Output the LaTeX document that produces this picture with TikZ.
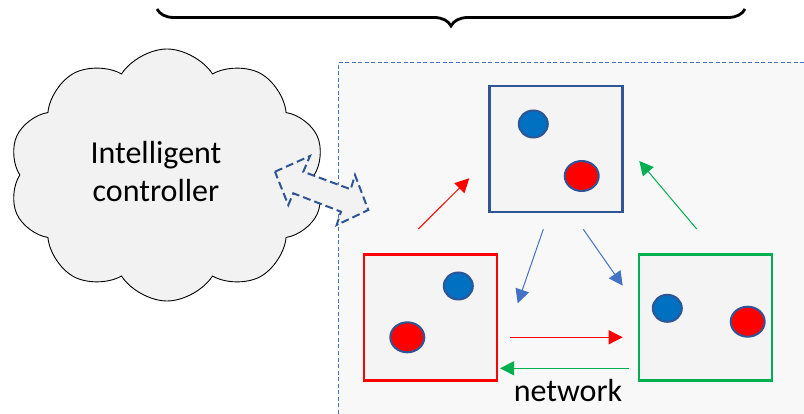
\documentclass[tikz,border=0pt]{standalone}
\usepackage{fontspec}
\setmainfont{Carlito}
\usetikzlibrary{shapes.geometric,shapes.symbols,arrows.meta,decorations.pathreplacing}
\definecolor{dkblue}{HTML}{2F5597}
\definecolor{ltblue}{HTML}{4472C4}
\definecolor{dotblue}{HTML}{0070C0}
\definecolor{mygreen}{HTML}{00B050}
\definecolor{panelfill}{HTML}{F8F8F8}
\definecolor{boxfill}{HTML}{F4F4F4}
\definecolor{cloudfill}{HTML}{F2F2F2}
\tikzset{
  hostbox/.style={draw, line width=2.4pt, fill=boxfill, minimum width=133pt, minimum height=126pt, inner sep=0pt},
  bdot/.style={ellipse, draw=dkblue, line width=2pt, fill=dotblue, minimum width=29pt, minimum height=27pt, inner sep=0pt},
  rdot/.style={ellipse, draw=dkblue, line width=2pt, fill=red, minimum width=34pt, minimum height=30pt, inner sep=0pt},
  flow/.style={line width=1pt, -{Triangle[length=14pt,width=14pt]}},
  bigtext/.style={font=\fontsize{32}{38}\selectfont, inner sep=0pt},
}
\begin{document}
\begin{tikzpicture}[x=1pt,y=-1pt]
\useasboundingbox (0,0) rectangle (804,414);
% brace
\draw[decorate, decoration={brace, amplitude=17pt, mirror}, line width=2.8pt] (157,9) -- (745,9);
% cloud
\node[cloud, cloud puffs=10, cloud puff arc=115, aspect=1.3, draw, fill=cloudfill, line width=0.9pt,
      minimum width=316pt, minimum height=252pt, inner sep=0pt] (cloud) at (167,175) {};
\node[bigtext, align=center] (ctext) at (156,172) {Intelligent\\controller};
% panel
\fill[panelfill] (338,63) rectangle (810,420);
\draw[ltblue, line width=1pt, dash pattern=on 4pt off 2.5pt] (338,420) -- (338,63) -- (810,63);
\coordinate (panel) at (338,63);
% double block arrow
\draw[dkblue, line width=2pt, dash pattern=on 8pt off 4pt, fill=cloudfill, line join=miter]
  (275,171.7) -- (310,156) -- (303.3,171.7) -- (350.7,189.3) -- (355,175) -- (368.3,210)
  -- (336.7,225) -- (341,211.7) -- (293.3,193.3) -- (288.3,205) -- cycle;
% host boxes
\node[hostbox, draw=dkblue] (top) at (555.8,149.2) {};
\node[hostbox, draw=red] (left) at (430.2,317.5) {};
\node[hostbox, draw=mygreen] (right) at (705.5,317.5) {};
% dots
\node[bdot] (tb) at (533.3,124) {};
\node[rdot] (tr) at (581.7,176) {};
\node[bdot] (lb) at (458.3,286) {};
\node[rdot] (lr) at (407.3,337.3) {};
\node[bdot] (rb) at (667.3,308.3) {};
\node[rdot] (rr) at (747.7,321.7) {};
% arrow end points
\coordinate (a1s) at (418.3,229);
\coordinate (a1e) at (469.3,178.3);
\coordinate (a2s) at (696.7,229);
\coordinate (a2e) at (639.3,161);
\coordinate (a3s) at (543.3,229.3);
\coordinate (a3e) at (517.7,303.3);
\coordinate (a4s) at (583.3,229.3);
\coordinate (a4e) at (622.7,285.7);
\coordinate (a5s) at (510,337.3);
\coordinate (a5e) at (622.7,337.3);
\coordinate (a6s) at (629,368.3);
\coordinate (a6e) at (500,368.3);
\draw[flow, red] (a1s) -- (a1e);
\draw[flow, mygreen] (a2s) -- (a2e);
\draw[flow, ltblue] (a3s) -- (a3e);
\draw[flow, ltblue] (a4s) -- (a4e);
\draw[flow, red] (a5s) -- (a5e);
\draw[flow, mygreen] (a6s) -- (a6e);
% label
\node[bigtext, anchor=base] (net) at (568,401.7) {network};
\end{tikzpicture}
\end{document}
